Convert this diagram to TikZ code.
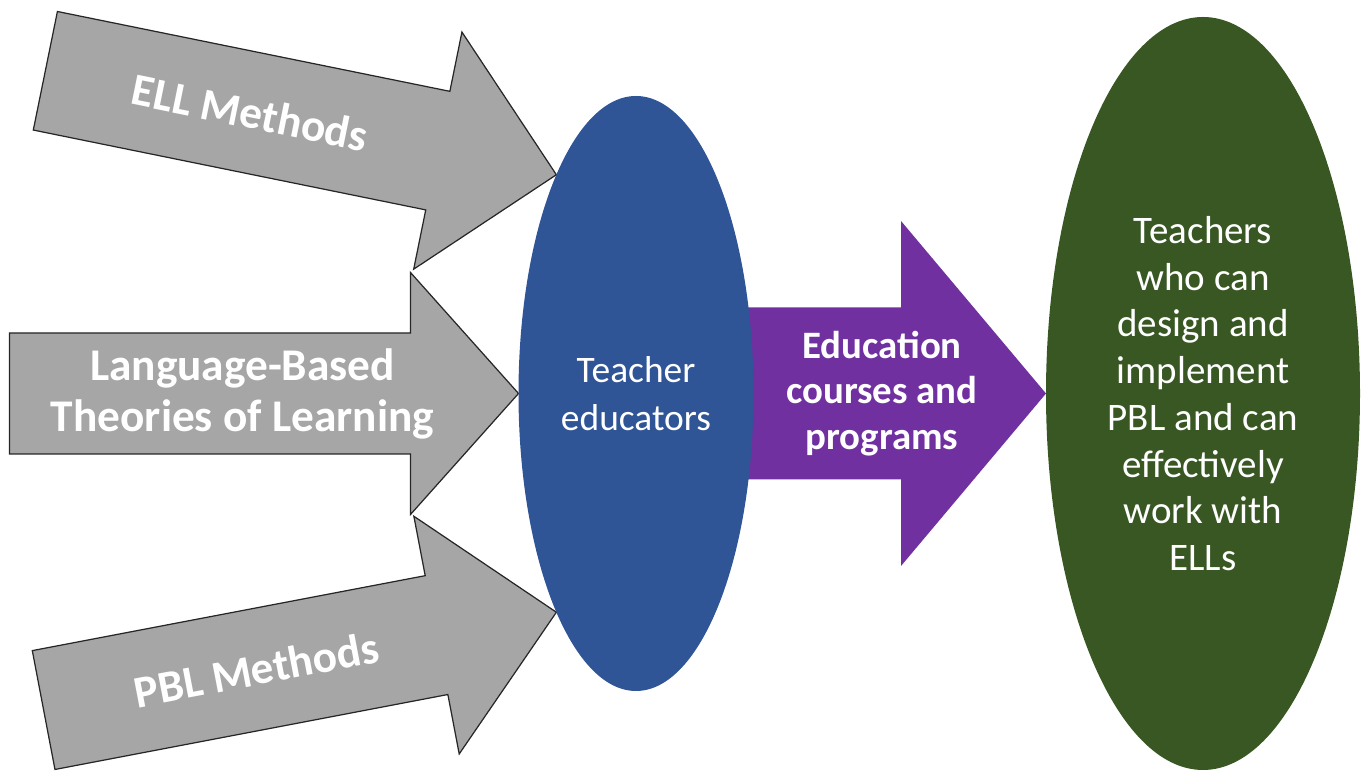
\documentclass[tikz,border=0pt]{standalone}
\usepackage{fontspec}
\setmainfont{Carlito}
\usetikzlibrary{shapes.geometric,backgrounds}
\definecolor{edublue}{RGB}{47,85,151}
\definecolor{edupurple}{RGB}{112,48,160}
\definecolor{edugreen}{RGB}{56,87,35}
\definecolor{armgray}{RGB}{166,166,166}
\begin{document}
\begin{tikzpicture}[armshape/.style={fill=armgray, draw=black!85, line width=0.7pt},
	armtext/.style={text=white, align=center, transform shape, font=\bfseries\fontsize{25.8}{29}\selectfont},
	oval/.style={ellipse, inner sep=0pt, outer sep=0pt, text=white, align=center}]
	\useasboundingbox (0,0) rectangle (27.24,15.48);
	\node (teach) at (12.72, 7.61) [oval, fill=edublue, minimum width=4.70cm, minimum height=11.90cm, font=\fontsize{21.3}{27}\selectfont] {Teacher\\educators};
	\node (goal) at (24.06, 7.61) [oval, fill=edugreen, minimum width=6.28cm, minimum height=15.06cm, font=\fontsize{22.2}{26.6}\selectfont] {Teachers\\who can\\design and\\implement\\PBL and can\\effectively\\work with\\ELLs};
	\node (prog) at (17.64, 7.61) [text=white, align=center, font=\bfseries\fontsize{22.1}{25.8}\selectfont] {Education\\courses and\\programs};
	\begin{pgfonlayer}{background}
		% three grey arrows into the teacher educators
		\begin{scope}[shift={(teach.110)}, rotate=-11.5]
			\draw[armshape] (0,0) -- (-2.42,2.42) -- (-2.42,1.21) -- (-10.43,1.21) -- (-10.43,-1.21) -- (-2.42,-1.21) -- (-2.42,-2.42) -- cycle;
			\node (ell) at (-6.25,0) [armtext] {ELL Methods};
		\end{scope}
		\begin{scope}[shift={(teach.west)}]
			\draw[armshape] (0,0) -- (-2.16,2.42) -- (-2.16,1.21) -- (-10.18,1.21) -- (-10.18,-1.21) -- (-2.16,-1.21) -- (-2.16,-2.42) -- cycle;
			\node (lang) at (-5.52,0) [armtext] {Language-Based\\Theories of Learning};
		\end{scope}
		\begin{scope}[shift={(teach.250)}, rotate=10.8]
			\draw[armshape] (0,0) -- (-2.44,2.42) -- (-2.44,1.21) -- (-10.44,1.21) -- (-10.44,-1.21) -- (-2.44,-1.21) -- (-2.44,-2.42) -- cycle;
			\node (pbl) at (-6.11,0) [armtext] {PBL Methods};
		\end{scope}
		% purple arrow from educators to teachers
		\fill[edupurple] ([shift={(-0.3,1.72)}]teach.east) -- ([shift={(-2.90,1.72)}]goal.west) -- ([shift={(-2.90,3.45)}]goal.west) -- (goal.west)
			-- ([shift={(-2.90,-3.45)}]goal.west) -- ([shift={(-2.90,-1.72)}]goal.west) -- ([shift={(-0.3,-1.72)}]teach.east) -- cycle;
	\end{pgfonlayer}
\end{tikzpicture}
\end{document}
